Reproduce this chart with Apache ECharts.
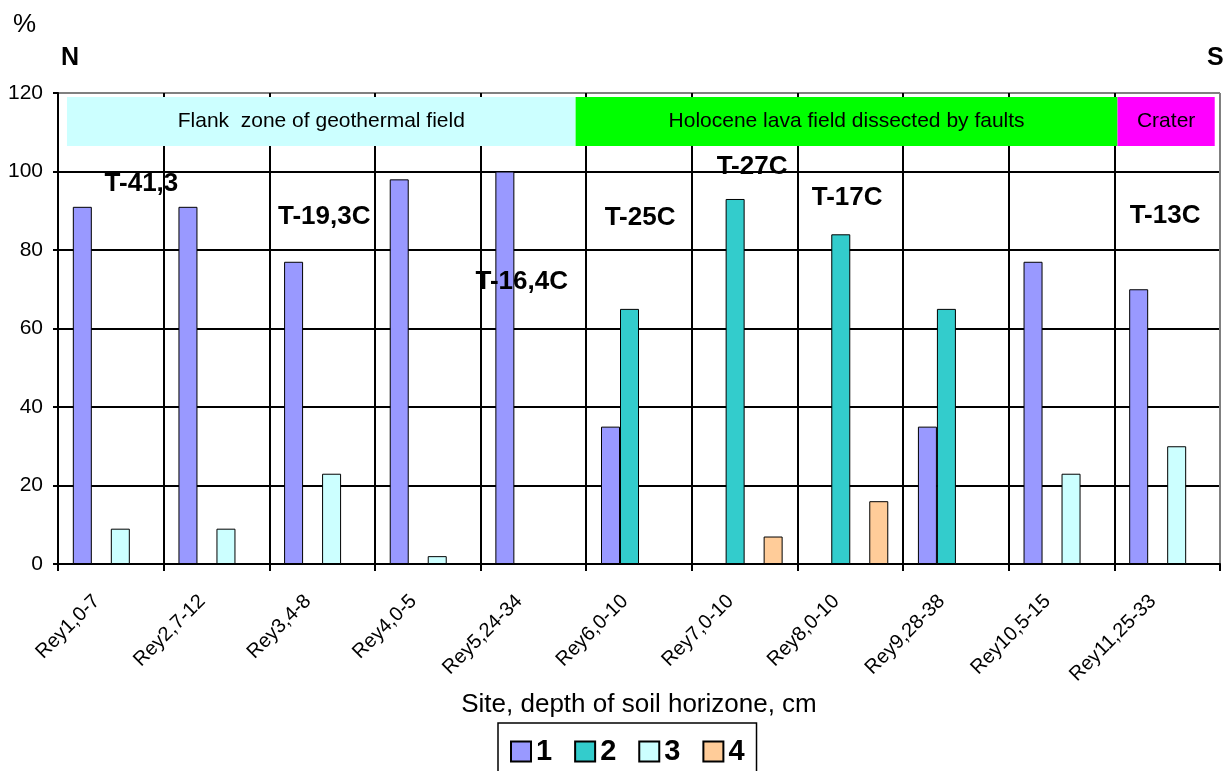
<!DOCTYPE html>
<html>
<head>
<meta charset="utf-8">
<script src="https://cdn.jsdelivr.net/npm/echarts@6/dist/echarts.min.js"></script>
<style>
  html, body { margin: 0; padding: 0; background: #fff; }
  #chart { width: 1226px; height: 771px; }
</style>
</head>
<body>
<div id="chart"></div>
<script>
const categories = ["Rey1,0-7", "Rey2,7-12", "Rey3,4-8", "Rey4,0-5", "Rey5,24-34", "Rey6,0-10",
  "Rey7,0-10", "Rey8,0-10", "Rey9,28-38", "Rey10,5-15", "Rey11,25-33"];
const series1 = [91, 91, 77, 98, 100, 35, 0, 0, 35, 77, 70];
const series2 = [0, 0, 0, 0, 0, 65, 93, 84, 65, 0, 0];
const series3 = [9, 9, 23, 2, 0, 0, 0, 0, 0, 23, 30];
const series4 = [0, 0, 0, 0, 0, 0, 7, 16, 0, 0, 0];
const yTicks = [0, 20, 40, 60, 80, 100, 120];

// zones drawn as bands near the top (x in category units, 0..11)
const zoneNames = ["Flank  zone of geothermal field", "Holocene lava field dissected by faults", "Crater"];
const zoneFrom = [0.085, 4.9, 10.03];
const zoneTo = [4.9, 10.03, 10.95];
const zoneColors = ["#CCFFFF", "#00FF00", "#FF00FF"];

// temperature notes
const tempText = ["T-41,3", "T-19,3C", "T-16,4C", "T-25C", "T-27C", "T-17C", "T-13C"];
const tempX = [0.79, 2.52, 4.39, 5.51, 6.57, 7.47, 10.48];
const tempY = [96.8, 88.4, 71.8, 88.2, 101.1, 93.2, 88.8];

const font = "Arial, 'Liberation Sans', sans-serif";
const chart = echarts.init(document.getElementById("chart"));

function bar(name, data, color) {
  return {
    name: name,
    type: "bar",
    data: data,
    barWidth: 19,
    barGap: "0%",
    itemStyle: { color: color, borderColor: "#000", borderWidth: 1 }
  };
}

const gridLineColors = yTicks.map((v, i) => (i === yTicks.length - 1 ? "#808080" : "#000"));
const vLineColors = categories.map(() => "#000").concat(["#808080"]);

const option = {
  animation: false,
  textStyle: { fontFamily: font, color: "#000" },
  grid: { left: 58, right: 6, top: 93, bottom: 207, containLabel: false, outerBoundsMode: "none" },
  legend: {
    top: 723,
    left: 498,
    data: ["1", "2", "3", "4"],
    icon: "rect",
    itemWidth: 20,
    itemHeight: 20,
    itemGap: 22,
    padding: [14, 12, 14, 12],
    borderColor: "#000",
    borderWidth: 1.5,
    textStyle: { fontSize: 29, fontWeight: "bold", color: "#000", fontFamily: font }
  },
  xAxis: [
    {
      type: "category",
      data: categories,
      name: "Site, depth of soil horizone, cm",
      nameLocation: "middle",
      nameGap: 118,
      nameTextStyle: { fontSize: 26, color: "#000", fontFamily: font },
      axisLine: { lineStyle: { color: "#000", width: 2 } },
      axisTick: { show: true, length: 7, lineStyle: { color: "#000", width: 2 } },
      axisLabel: { rotate: 45, fontSize: 20, color: "#000", margin: 20, padding: [0, 20, 0, 0], interval: 0 },
      splitLine: { show: true, lineStyle: { color: vLineColors, width: 2 } }
    },
    { type: "value", min: 0, max: 11, show: false }
  ],
  yAxis: {
    type: "value",
    min: 0,
    max: 120,
    interval: 20,
    axisLine: { show: true, lineStyle: { color: "#000", width: 2 } },
    axisTick: { show: true, length: 5, lineStyle: { color: "#000", width: 2 } },
    axisLabel: { fontSize: 21, color: "#000", margin: 15 },
    splitLine: { show: true, lineStyle: { color: gridLineColors, width: 2 } }
  },
  graphic: [
    { type: "text", left: 13, top: 12, style: { text: "%", fontSize: 26, fontFamily: font, fill: "#000" } },
    { type: "text", left: 61, top: 46, style: { text: "N", fontSize: 25, fontWeight: "bold", fontFamily: font, fill: "#000" } },
    { type: "text", left: 1207, top: 46, style: { text: "S", fontSize: 25, fontWeight: "bold", fontFamily: font, fill: "#000" } }
  ],
  series: [
    bar("1", series1, "#9999FF"),
    bar("2", series2, "#33CCCC"),
    bar("3", series3, "#CCFFFF"),
    bar("4", series4, "#FFCC99"),
    {
      name: "notes",
      type: "scatter",
      xAxisIndex: 1,
      data: [],
      silent: true,
      markArea: {
        silent: true,
        label: { show: true, position: "inside", fontSize: 21, color: "#000", fontFamily: font },
        data: zoneNames.map((n, i) => [
          { name: n, xAxis: zoneFrom[i], yAxis: 119, itemStyle: { color: zoneColors[i], opacity: 1 } },
          { xAxis: zoneTo[i], yAxis: 106.5 }
        ])
      },
      markPoint: {
        symbol: "circle",
        symbolSize: 0,
        silent: true,
        label: { show: true, position: "inside", fontSize: 26, fontWeight: "bold", color: "#000", fontFamily: font },
        data: tempText.map((t, i) => ({ coord: [tempX[i], tempY[i]], value: t, label: { formatter: t } }))
      }
    }
  ]
};
chart.setOption(option);
</script>
</body>
</html>
